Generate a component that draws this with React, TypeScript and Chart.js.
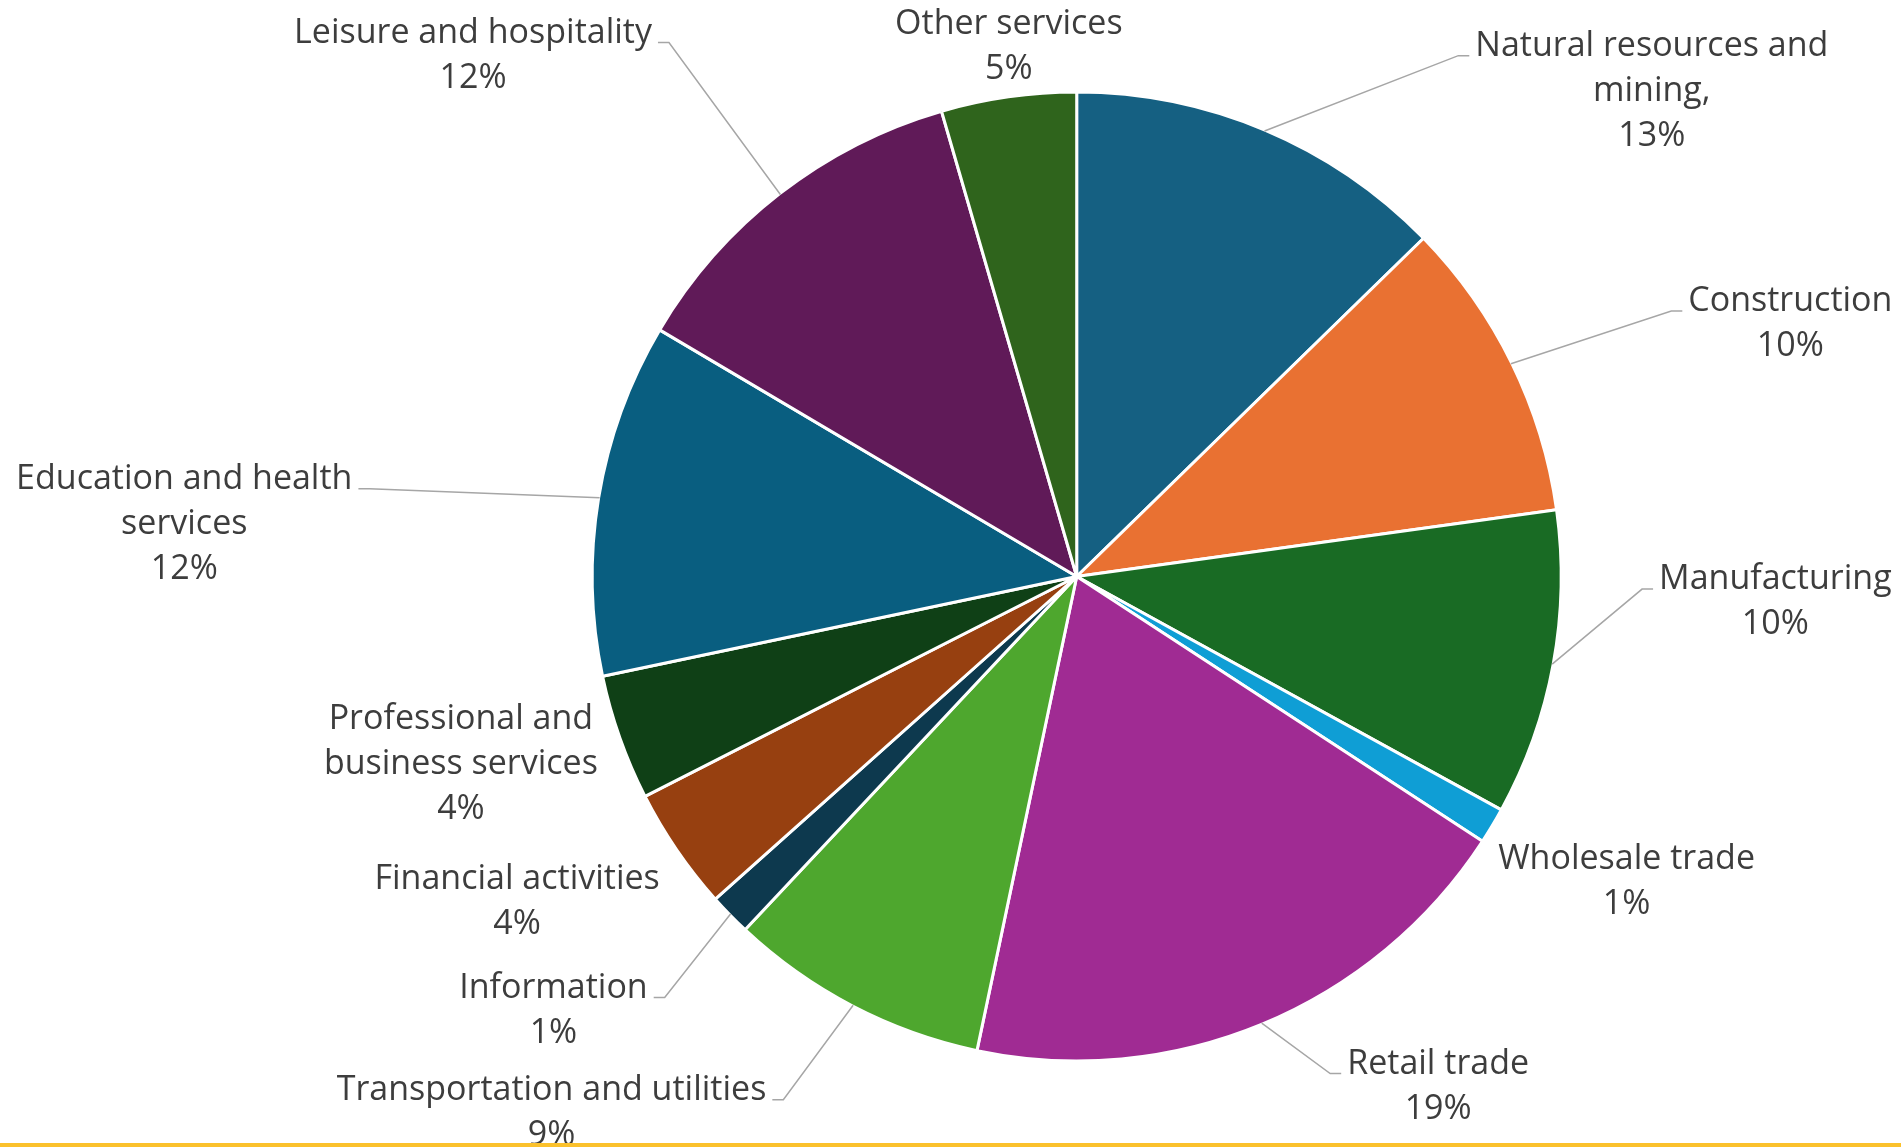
import React, { useEffect, useRef } from "react";
import { Chart, registerables } from "chart.js";

Chart.register(...registerables);

// ---------- data ----------
const categories: string[][] = [
  ["Natural resources and", "mining,"],
  ["Construction"],
  ["Manufacturing"],
  ["Wholesale trade"],
  ["Retail trade"],
  ["Transportation and utilities"],
  ["Information"],
  ["Financial activities"],
  ["Professional and", "business services"],
  ["Education and health", "services"],
  ["Leisure and hospitality"],
  ["Other services"],
];

// shares in tenths of a percent (sum = 1000)
const shares: number[] = [127, 101, 102, 12, 191, 87, 14, 41, 42, 118, 120, 45];

const sliceColors: string[] = [
  "#156082",
  "#E97132",
  "#196B24",
  "#0F9ED5",
  "#A02B93",
  "#4EA72E",
  "#0D394E",
  "#974010",
  "#0F4016",
  "#095E80",
  "#601A58",
  "#2F641C",
];

// ---------- label layout (relative to pie centre, in radii) ----------
const labelDX: number[] = [1.187, 1.473, 1.442, 1.135, 0.746, -1.084, -1.08, -1.155, -1.271, -1.842, -1.246, -0.14];
const labelDY: number[] = [-1.075, -0.548, 0.026, 0.604, 1.026, 1.08, 0.869, 0.645, 0.314, -0.181, -1.102, -1.12];
const showLeader: boolean[] = [true, true, true, false, true, true, true, false, false, true, true, false];

const FONT_SIZE = 34;
const LINE_H = 45;
const TEXT_COLOR = "#3D3D3D";
const LEADER_COLOR = "#A6A6A6";

const labelPlugin = {
  id: "pieLabels",
  afterDraw(chart: any) {
    const ctx: CanvasRenderingContext2D = chart.ctx;
    const meta = chart.getDatasetMeta(0);
    const total = shares.reduce((a, b) => a + b, 0);
    ctx.save();
    ctx.font = `${FONT_SIZE}px "Open Sans"`;
    ctx.textAlign = "center";
    ctx.textBaseline = "alphabetic";
    meta.data.forEach((arc: any, i: number) => {
      const { x, y, outerRadius, startAngle, endAngle } = arc.getProps(
        ["x", "y", "outerRadius", "startAngle", "endAngle"],
        true
      );
      const r = outerRadius;
      const lines = [...categories[i], `${Math.round((shares[i] * 100) / total)}%`];
      const cx = x + labelDX[i] * r;
      const by = y + labelDY[i] * r;
      if (showLeader[i]) {
        const mid = (startAngle + endAngle) / 2;
        const px = x + Math.cos(mid) * (r - 1);
        const py = y + Math.sin(mid) * (r - 1);
        const w = ctx.measureText(lines[0]).width;
        const right = cx > px;
        const edge = right ? cx - w / 2 - 6 : cx + w / 2 + 6;
        const elbow = right ? edge - 11 : edge + 11;
        ctx.beginPath();
        ctx.moveTo(px, py);
        ctx.lineTo(elbow, by);
        ctx.lineTo(edge, by);
        ctx.strokeStyle = LEADER_COLOR;
        ctx.lineWidth = 1.5;
        ctx.stroke();
      }
      ctx.fillStyle = TEXT_COLOR;
      lines.forEach((t, k) => ctx.fillText(t, cx, by + k * LINE_H));
    });
    // bottom rule
    ctx.fillStyle = "#FBC12C";
    ctx.fillRect(0, chart.height - 4, chart.width, 4);
    ctx.restore();
  },
};

export default function App() {
  const canvasRef = useRef<HTMLCanvasElement | null>(null);

  useEffect(() => {
    document.body.style.margin = "0";
    document.body.style.overflow = "hidden";
    const canvas = canvasRef.current;
    if (!canvas) return;
    const chart = new Chart(canvas, {
      type: "pie",
      data: {
        labels: categories,
        datasets: [
          {
            data: shares,
            backgroundColor: sliceColors,
            borderColor: "#FFFFFF",
            borderWidth: 3,
          },
        ],
      },
      options: {
        responsive: false,
        animation: false,
        devicePixelRatio: 1,
        layout: {
          padding: { top: 90.5, bottom: 84.5, left: 590.7, right: 338.3 },
        },
        plugins: {
          legend: { display: false },
          tooltip: { enabled: false },
        },
      },
      plugins: [labelPlugin],
    });
    return () => chart.destroy();
  }, []);

  return (
    <div style={{ width: 1901, height: 1147, background: "#FFFFFF" }}>
      <canvas ref={canvasRef} width={1901} height={1147} />
    </div>
  );
}
